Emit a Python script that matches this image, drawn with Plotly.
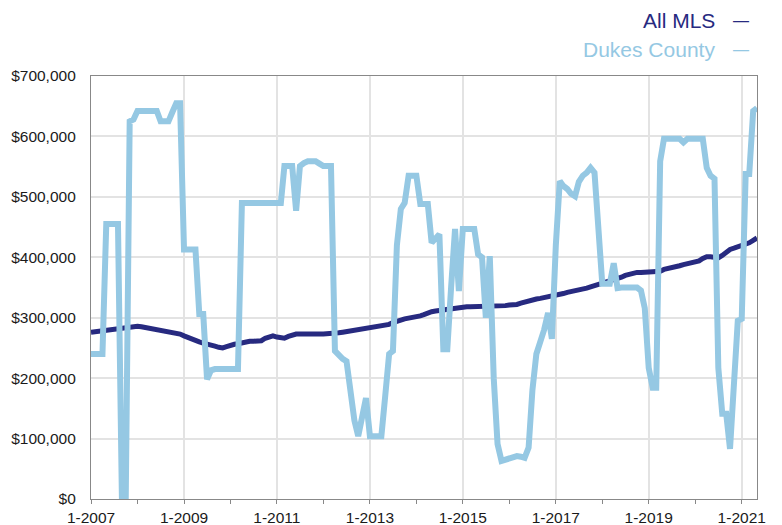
import pandas as pd
import plotly.graph_objects as go

dates = pd.date_range("2007-01-01", periods=173, freq="MS")

all_mls_k = [
    276, 277, 278, 279, 280, 281, 282, 283, 284, 284, 285, 286,
    286, 285, 284, 283, 282, 280, 278, 278, 277, 275, 274, 273,
    270, 267, 264, 261, 260, 258, 257, 256, 253, 251, 250, 252,
    255, 256, 257, 259, 260, 261, 261, 261, 262, 266, 269, 270,
    268, 267, 266, 269, 272, 273, 273, 272, 273, 273, 272, 273,
    273, 273, 274, 274, 275, 276, 277, 278, 279, 280, 281, 281,
    282, 283, 284, 285, 286, 289, 292, 295, 296, 298, 299, 300,
    301, 303, 305, 308, 310, 311, 312, 313, 313, 314, 315, 316,
    317, 318, 318, 318, 319, 319, 319, 319, 319, 319, 320, 320,
    321, 321, 322, 324, 326, 327, 329, 331, 332, 333, 335, 336,
    338, 339, 340, 342, 343, 345, 347, 348, 349, 351, 353, 354,
    356, 358, 360, 362, 364, 367, 370, 372, 374, 375, 375, 375,
    375, 376, 376, 377, 380, 381, 382, 384, 386, 388, 389, 390,
    392, 394, 398, 401, 401, 400, 399, 403, 408, 413, 415, 417,
    419, 421, 424, 428, 432,
]

dukes_k = [
    240, 240, 240, 240,
    455, 455, 455, 455,
    0, 0,
    625, 628, 642, 642, 642, 642, 642, 642,
    625, 625, 625, 640, 655, 655,
    413, 413, 413, 413,
    306, 306,
    198, 213, 215, 215, 215, 215, 215, 215, 215,
    490, 490, 490, 490, 490, 490, 490, 490, 490, 490, 490,
    551, 551, 551, 477,
    551, 556, 559, 559, 559, 555, 551, 551, 551,
    245, 237, 232, 228, 180, 130, 104,
    140, 167, 104,
    104, 104, 104,
    170, 240, 245,
    420, 480, 490, 535, 535, 535,
    488, 488, 488,
    424, 430, 438,
    248, 248,
    350, 447, 344, 447, 447, 447, 447,
    405, 400, 300, 402, 200,
    91, 63, 65, 68, 68, 71, 70, 68, 85,
    180, 240, 257, 280, 308, 265,
    420, 526, 518, 513, 505, 501, 525, 535, 540, 548, 540,
    450, 356, 356, 356, 390, 349,
    350, 350, 350, 350, 350,
    345, 316, 217, 184, 184,
    559, 596, 596, 596, 596, 596, 590, 596, 596, 596, 596, 596,
    548, 535, 530,
    217, 141, 141,
    83, 200, 295, 298,
    538, 538, 642, 647,
]

assert len(all_mls_k) == len(dates) and len(dukes_k) == len(dates)

all_mls = [v * 1000 for v in all_mls_k]
dukes = [v * 1000 for v in dukes_k]

NAVY = "#272A80"
LIGHT = "#95C8E3"
FONT = "Liberation Sans, Arial, sans-serif"

fig = go.Figure()
fig.add_trace(go.Scatter(x=dates, y=all_mls, mode="lines", name="All MLS",
                         line=dict(color=NAVY, width=5)))
fig.add_trace(go.Scatter(x=dates, y=dukes, mode="lines", name="Dukes County",
                         line=dict(color=LIGHT, width=6)))

# page body has an 8px margin, so the figure is sized/offset to compensate
fig.update_layout(
    width=774, height=517,
    margin=dict(l=83, r=25, t=68, b=26, autoexpand=False),
    paper_bgcolor="white", plot_bgcolor="white",
    showlegend=False,
    font=dict(family=FONT, size=15.5, color="#1a1a1a"),
)

fig.update_xaxes(
    type="date", automargin=False,
    range=["2007-01-01", "2021-05-01"],
    tick0="2007-01-01", dtick="M24", tickformat="%-m-%Y",
    ticks="outside", ticklen=4, tickcolor="#888888",
    showgrid=True, gridcolor="#e3e3e3", gridwidth=1.5,
    showline=True, linecolor="#888888", linewidth=1.2, mirror=True,
    minor=dict(dtick="M12", ticks="outside", ticklen=4, tickcolor="#888888", showgrid=False),
    tickfont=dict(family=FONT, size=15.5, color="#1a1a1a"),
    zeroline=False,
)
fig.update_yaxes(
    automargin=False,
    range=[0, 700000], dtick=100000, tickformat="$,.0f",
    ticks="outside", ticklen=11, tickcolor="rgba(0,0,0,0)",
    showgrid=True, gridcolor="#e3e3e3", gridwidth=1.5,
    showline=True, linecolor="#888888", linewidth=1.2, mirror=True,
    tickfont=dict(family=FONT, size=15.5, color="#1a1a1a"),
    zeroline=False,
)

legend_items = [("All MLS", NAVY, 21), ("Dukes County", LIGHT, 50)]
for label, color, ypix in legend_items:
    fig.add_annotation(text=label, xref="paper", yref="paper",
                       x=(717 - 91) / 666, y=1 + (76 - ypix) / 423,
                       xanchor="right", yanchor="middle", showarrow=False,
                       font=dict(family=FONT, size=21, color=color))
    fig.add_annotation(text="—", xref="paper", yref="paper",
                       x=(741 - 91) / 666, y=1 + (76 - ypix) / 423,
                       xanchor="center", yanchor="middle", showarrow=False,
                       font=dict(family=FONT, size=16, color=color))

fig.write_html("out.html")
